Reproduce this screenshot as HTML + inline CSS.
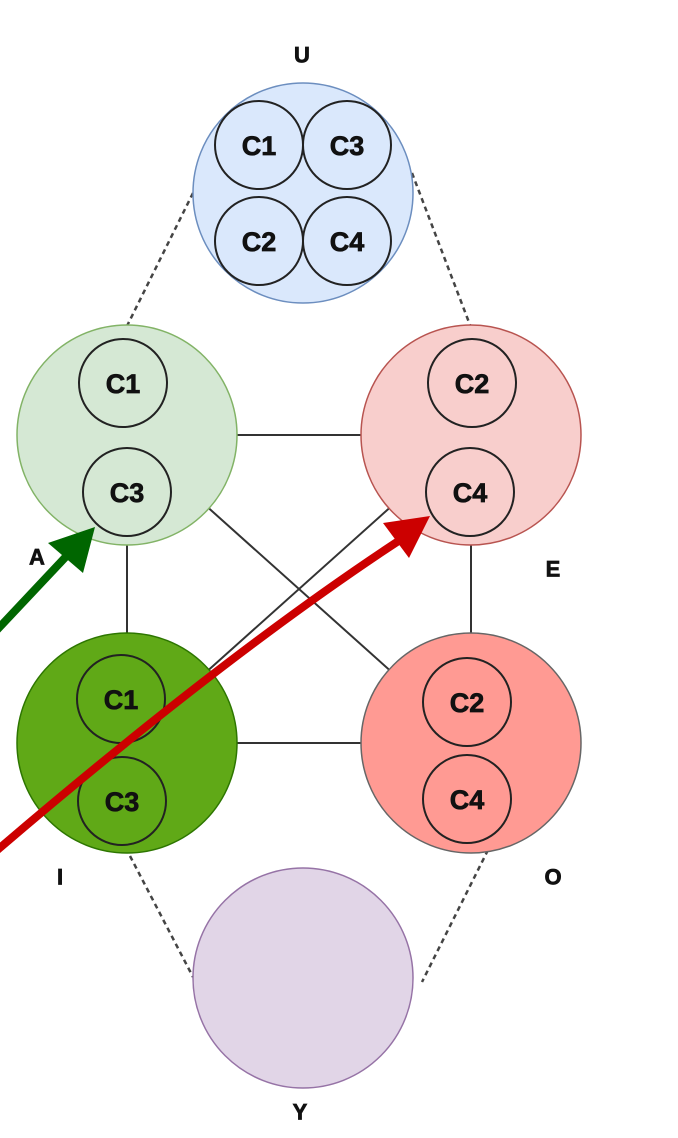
<!DOCTYPE html>
<html><head><meta charset="utf-8"><style>
html,body{margin:0;padding:0;background:#fff;}
svg{display:block;}
text{font-family:"Liberation Sans",sans-serif;font-weight:bold;text-anchor:middle;dominant-baseline:central;fill:#111;stroke:#111;stroke-width:0.7;}
</style></head><body>
<svg width="678" height="1138" viewBox="0 0 678 1138" xmlns="http://www.w3.org/2000/svg">
<g stroke="#333" stroke-width="2" fill="none">
<line x1="127" y1="435" x2="471" y2="435"/>
<line x1="127" y1="743" x2="471" y2="743"/>
<line x1="127" y1="435" x2="127" y2="743"/>
<line x1="471" y1="435" x2="471" y2="743"/>
<line x1="127" y1="435" x2="471" y2="743"/>
<line x1="471" y1="435" x2="127" y2="743"/>
</g>
<g stroke="#444" stroke-width="2.5" stroke-dasharray="5,4" fill="none">
<line x1="193" y1="193" x2="127" y2="326"/>
<line x1="412" y1="173" x2="470" y2="325"/>
<line x1="130" y1="856" x2="193" y2="977"/>
<line x1="488" y1="850" x2="422" y2="982"/>
</g>
<circle cx="303" cy="193" r="110" fill="#dae8fc" stroke="#6c8ebf" stroke-width="1.5"/>
<circle cx="127" cy="435" r="110" fill="#d5e8d4" stroke="#82b366" stroke-width="1.5"/>
<circle cx="471" cy="435" r="110" fill="#f8cecc" stroke="#b85450" stroke-width="1.5"/>
<circle cx="127" cy="743" r="110" fill="#60a917" stroke="#2d7600" stroke-width="1.5"/>
<circle cx="471" cy="743" r="110" fill="#ff9a93" stroke="#666" stroke-width="1.5"/>
<circle cx="303" cy="978" r="110" fill="#e1d5e7" stroke="#9673a6" stroke-width="1.5"/>
<g stroke="#222" stroke-width="2" fill="none">
<circle cx="259" cy="145" r="44"/><circle cx="347" cy="145" r="44"/>
<circle cx="259" cy="241" r="44"/><circle cx="347" cy="241" r="44"/>
<circle cx="123" cy="383" r="44"/><circle cx="127" cy="492" r="44"/>
<circle cx="472" cy="383" r="44"/><circle cx="470" cy="492" r="44"/>
<circle cx="121" cy="699" r="44"/><circle cx="122" cy="801" r="44"/>
<circle cx="467" cy="702" r="44"/><circle cx="467" cy="799" r="44"/>
</g>
<g font-size="27">
<text x="259" y="146">C1</text><text x="347" y="146">C3</text>
<text x="259" y="242">C2</text><text x="347" y="242">C4</text>
<text x="123" y="384">C1</text><text x="127" y="493">C3</text>
<text x="472" y="384">C2</text><text x="470" y="493">C4</text>
<text x="121" y="700">C1</text><text x="122" y="802">C3</text>
<text x="467" y="703">C2</text><text x="467" y="800">C4</text>
</g>
<g font-size="22" style="stroke-width:0.5">
<text x="302" y="55">U</text>
<text x="37" y="557">A</text>
<text x="553" y="569">E</text>
<text x="60" y="877">I</text>
<text x="553" y="877">O</text>
<text x="300" y="1112">Y</text>
</g>
<line x1="-5" y1="632" x2="75" y2="547" stroke="#006600" stroke-width="8"/>
<polygon points="95,527 48,543 83,573" fill="#006600"/>
<path d="M-5,852 Q225,655 400,540" stroke="#cc0000" stroke-width="8" fill="none"/>
<polygon points="430,516 383,523 409,558" fill="#cc0000"/>
</svg>
</body></html>
